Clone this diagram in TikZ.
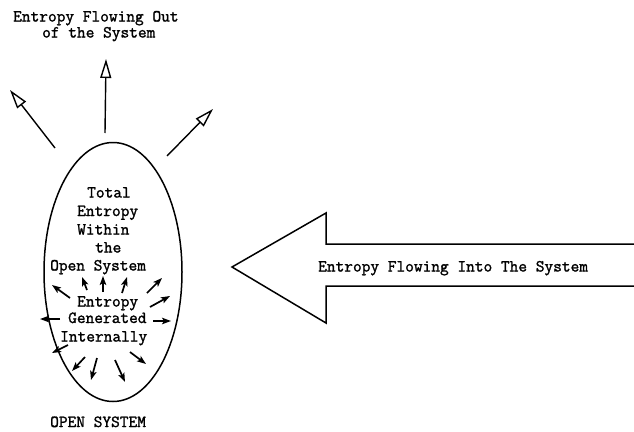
\documentclass[tikz,border=0pt]{standalone}
\usepackage{fontspec}
\setmonofont[FakeBold=1.5]{Latin Modern Mono}
\usetikzlibrary{arrows.meta}
\begin{document}
\begin{tikzpicture}[x=1pt,y=-1pt,
  lbl/.style={font=\ttfamily\fontsize{16.9}{18}\selectfont, inner sep=0pt, anchor=base west},
  outarrow/.style={line width=1.4pt, -{Triangle[open,length=19pt,width=11pt,line width=1.4pt]}},
  inarrow/.style={line width=1.7pt, -{Stealth[length=9pt,width=6.5pt,inset=2pt]}},
  ]
\useasboundingbox (0,0) rectangle (634,431);

% title
\node[lbl] (t1) at (13,21.5) {Entropy Flowing Out};
\node[lbl] (t2) at (42,37.5) {of the System};

% ellipse
\coordinate (c) at (113,272);
\draw[line width=1.5pt] (c) ellipse [x radius=69, y radius=129.5];

% out arrows
\coordinate (u0) at (105,133); \coordinate (u1) at (106,59);
\coordinate (l0) at (55,148);  \coordinate (l1) at (10,90);
\coordinate (r0) at (167,156); \coordinate (r1) at (213,109);
\draw[outarrow] (u0) -- (u1);
\draw[outarrow] (l0) -- (l1);
\draw[outarrow] (r0) -- (r1);

% inner text
\node[lbl] (a1) at (87,197.5) {Total};
\node[lbl] (a2) at (77,216) {Entropy};
\node[lbl] (a3) at (77,234.5) {Within};
\node[lbl] (a4) at (95,252.5) {the};
\node[lbl] (a5) at (50,270.5) {Open System};
\node[lbl] (b1) at (77,306.5) {Entropy};
\node[lbl] (b2) at (68,323) {Generated};
\node[lbl] (b3) at (60,341.5) {Internally};

% internal arrows
\foreach \sx/\sy/\ex/\ey [count=\i] in {
  70/298/52/285, 87/290/82/277, 103/292/103/276, 122/293/127/277,
  147/293/162/278, 150/307/170/296, 153/321/171/321, 60/319/40/319,
  68/345/52/353, 85/357/72/371, 97/358/91/380, 115/360/125/382, 130/352/146/364}
  {\coordinate (s\i) at (\sx,\sy); \coordinate (e\i) at (\ex,\ey);
   \draw[inarrow] (s\i) -- (e\i);}

% bottom label
\node[lbl] (os) at (50,427) {OPEN SYSTEM};

% big arrow
\coordinate (p1) at (640,244); \coordinate (p2) at (326,244); \coordinate (p3) at (326,213);
\coordinate (p4) at (232,267); \coordinate (p5) at (326,323); \coordinate (p6) at (326,286);
\coordinate (p7) at (640,286);
\draw[line width=1.5pt, line join=miter] (p1) -- (p2) -- (p3) -- (p4) -- (p5) -- (p6) -- (p7);
\node[lbl] (bt) at (318,271.5) {Entropy Flowing Into The System};
\end{tikzpicture}
\end{document}
